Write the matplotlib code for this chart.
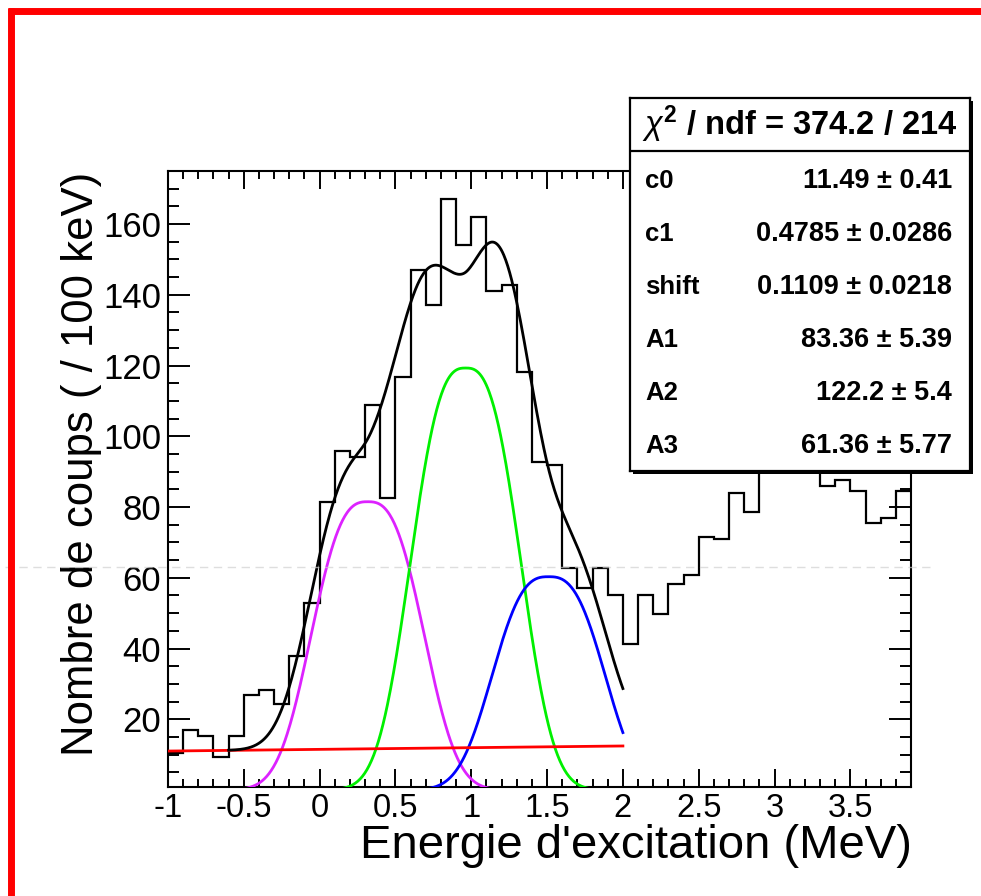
import numpy as np
import matplotlib
matplotlib.use("Agg")
import matplotlib.pyplot as plt
from matplotlib.lines import Line2D
from matplotlib.patches import Rectangle
from matplotlib.ticker import MultipleLocator, FuncFormatter

plt.rcParams["font.family"] = ["Liberation Sans", "DejaVu Sans"]
plt.rcParams["axes.unicode_minus"] = False
plt.rcParams["mathtext.fontset"] = "custom"
plt.rcParams["mathtext.rm"] = "Liberation Sans:bold"
plt.rcParams["mathtext.it"] = "Liberation Sans:italic"
plt.rcParams["mathtext.bf"] = "Liberation Sans:bold"

# ---------------- data ----------------
bin_start = -1.0
bin_width = 0.1
counts = [10.4, 17.1, 15.3, 9.4, 15.3, 26.8, 28.3, 24.2, 37.9, 53.0,
          81.4, 95.7, 94.2, 108.9, 82.6, 116.9, 147.0, 137.0, 167.0, 154.0,
          162.0, 141.0, 142.8, 118.3, 92.6, 91.9, 62.7, 57.0, 62.7, 55.1,
          41.3, 55.1, 49.8, 58.2, 60.8, 71.5, 70.9, 84.1, 78.7, 95.0,
          100.0, 97.0, 93.0, 86.0, 87.7, 84.4, 75.4, 76.8, 84.6]

# fit: linear background + three peak components
bg_c0 = 11.49
bg_c1 = 0.4785
comp_peaks = [81.5, 119.3, 60.3]
comp_centers = [0.317, 0.963, 1.51]
comp_widths = [0.345, 0.338, 0.345]
comp_power = 2.75
comp_colors = ["#dd22ff", "#00f000", "#0000ff"]
fit_range = (-0.6, 2.0)
comp_range = (-1.0, 2.0)

x_ticks = [-1, -0.5, 0, 0.5, 1, 1.5, 2, 2.5, 3, 3.5]
y_ticks = [20, 40, 60, 80, 100, 120, 140, 160]
x_limits = (-1.0, 3.9)
y_limits = (0.85, 175.0)

x_title = "Energie d'excitation (MeV)"
y_title = "Nombre de coups ( / 100 keV)"

stats_header = r"$\chi^{2}$ / ndf = 374.2 / 214"
stats_names = ["c0", "c1", "shift", "A1", "A2", "A3"]
stats_values = ["11.49 ± 0.41", "0.4785 ± 0.0286", "0.1109 ± 0.0218",
                "83.36 ± 5.39", "122.2 ± 5.4", "61.36 ± 5.77"]

# ---------------- figure ----------------
W, H = 981, 896
fig = plt.figure(figsize=(W / 100, H / 100), dpi=100)
fig.patch.set_facecolor("white")


def fx(px):
    return px / W


def fy(py):
    return 1 - py / H


ax_l, ax_r, ax_t, ax_b = 168, 911, 171, 787
ax = fig.add_axes([fx(ax_l), fy(ax_b), fx(ax_r - ax_l), (ax_b - ax_t) / H])

edges = bin_start + bin_width * np.arange(len(counts) + 1)
ax.stairs(counts, edges, baseline=None, color="black", lw=1.6, zorder=3)


def component(x, peak, center, width):
    u = np.abs((x - center) / width)
    return peak * np.exp(-0.5 * u ** comp_power)


def background(x):
    return bg_c0 + bg_c1 * x


xc = np.linspace(comp_range[0], comp_range[1], 600)
for p, c, w, col in zip(comp_peaks, comp_centers, comp_widths, comp_colors):
    ax.plot(xc, component(xc, p, c, w), color=col, lw=2.0, zorder=4)

ax.plot(xc, background(xc), color="#ff0000", lw=2.0, zorder=4)

xf = np.linspace(fit_range[0], fit_range[1], 600)
total = background(xf)
for p, c, w in zip(comp_peaks, comp_centers, comp_widths):
    total = total + component(xf, p, c, w)
ax.plot(xf, total, color="black", lw=2.0, zorder=5)

ax.set_xlim(*x_limits)
ax.set_ylim(*y_limits)
ax.set_xticks(x_ticks)
ax.set_yticks(y_ticks)
ax.xaxis.set_minor_locator(MultipleLocator(0.1))
ax.yaxis.set_minor_locator(MultipleLocator(5))
ax.xaxis.set_major_formatter(FuncFormatter(lambda v, pos: f"{v:g}"))
ax.yaxis.set_major_formatter(FuncFormatter(lambda v, pos: f"{v:g}"))

ax.tick_params(axis="both", which="both", direction="in", top=True,
               right=True, width=1.4, color="black")
ax.tick_params(axis="x", which="major", length=13, labelsize=23.5, pad=4)
ax.tick_params(axis="x", which="minor", length=6)
ax.tick_params(axis="y", which="major", length=16, labelsize=25, pad=5)
ax.tick_params(axis="y", which="minor", length=8)
for sp in ax.spines.values():
    sp.set_linewidth(1.5)

fig.text(fx(82), fy(172), y_title, rotation=90, ha="center", va="top",
         fontsize=31.5)
fig.text(fx(912), fy(858), x_title, ha="right", va="baseline", fontsize=34)

# ---------------- stats box ----------------
bl, br, bt, bb = 630, 970, 98, 471
shadow = Rectangle((fx(bl + 3), fy(bb + 3)), fx(br - bl), (bb - bt) / H,
                   transform=fig.transFigure, facecolor="black",
                   edgecolor="none", zorder=8)
fig.add_artist(shadow)
sax = fig.add_axes([fx(bl), fy(bb), fx(br - bl), (bb - bt) / H], zorder=10)
sax.set_xlim(0, 1)
sax.set_ylim(0, 1)
sax.set_xticks([])
sax.set_yticks([])
sax.set_facecolor("white")
for sp in sax.spines.values():
    sp.set_linewidth(1.6)


def by(py):
    return (bb - py) / (bb - bt)


sax.text(0.5, by(124), stats_header, ha="center", va="center",
         fontsize=23.5, fontweight="bold")
sax.axhline(by(151), color="black", lw=1.6)
row_y = [181, 234, 287, 340, 393, 446]
for name, val, ry in zip(stats_names, stats_values, row_y):
    sax.text((645 - bl) / (br - bl), by(ry), name, ha="left", va="center",
             fontsize=18.5, fontweight="bold")
    sax.text((952 - bl) / (br - bl), by(ry), val, ha="right", va="center",
             fontsize=19.5, fontweight="bold")

# ---------------- decorations ----------------
fig.add_artist(Line2D([fx(5), fx(930)], [fy(567), fy(567)],
                      transform=fig.transFigure, color="#d0d0d0", lw=1,
                      dashes=(6, 4), zorder=20, alpha=0.7))
fig.add_artist(Line2D([fx(8), fx(981)], [fy(11), fy(11)],
                      transform=fig.transFigure, color="#ff0000", lw=5,
                      solid_capstyle="butt", zorder=30))
fig.add_artist(Line2D([fx(11), fx(11)], [fy(8), fy(896)],
                      transform=fig.transFigure, color="#ff0000", lw=5,
                      solid_capstyle="butt", zorder=30))

fig.savefig("out.png", dpi=100, facecolor="white")
